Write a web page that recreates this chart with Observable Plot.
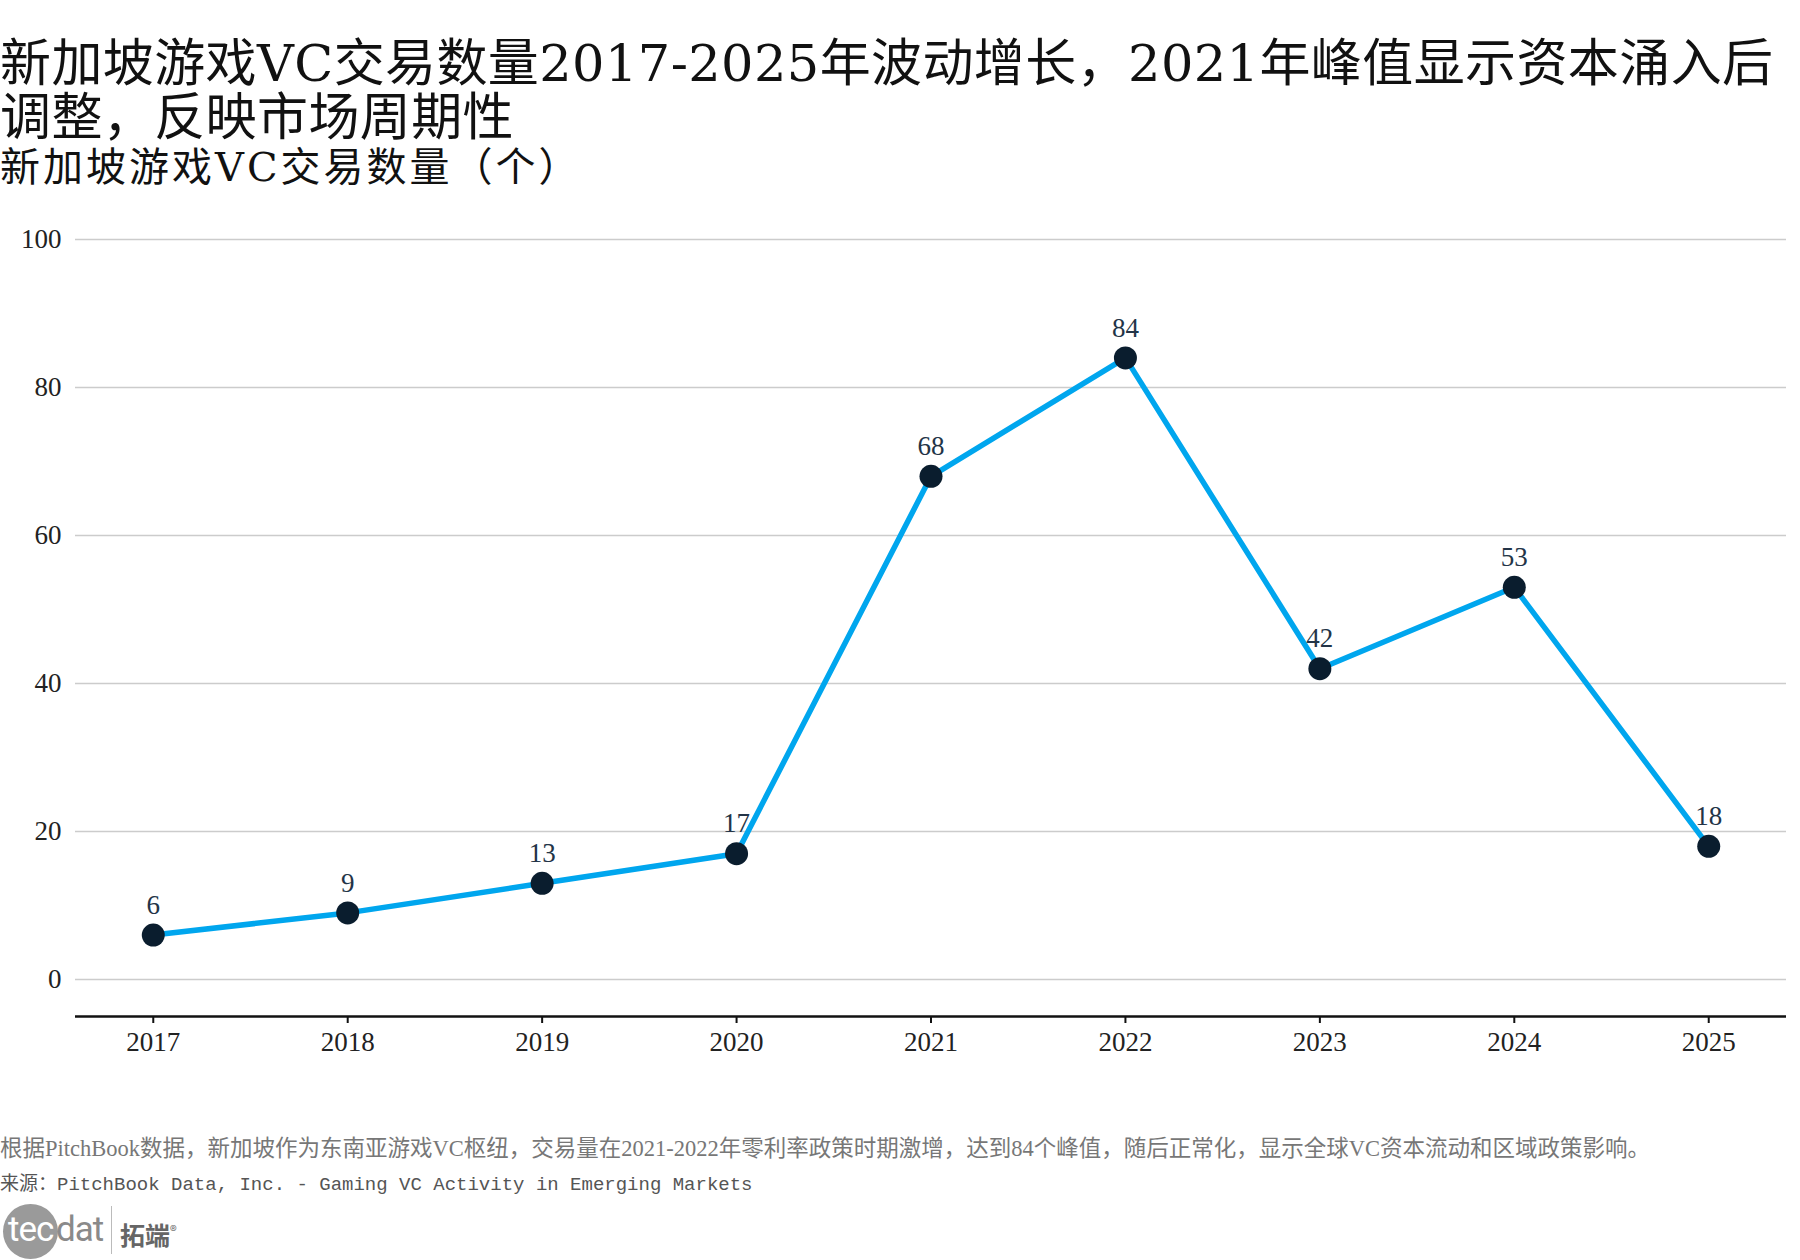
<!DOCTYPE html>
<html>
<head>
<meta charset="utf-8">
<script src="https://cdn.jsdelivr.net/npm/d3@7"></script>
<script src="https://cdn.jsdelivr.net/npm/@observablehq/plot@0.6"></script>
<style>
  html, body { margin: 0; padding: 0; background: #fff; }
  body { width: 1800px; height: 1260px; position: relative; overflow: hidden; }
  .title { position: absolute; left: 0; top: 37px; font-family: "DejaVu Serif", "Noto Sans CJK SC", serif; font-size: 51px; line-height: 54px; letter-spacing: 0.4px; color: #111; white-space: nowrap; }
  .subtitle { position: absolute; left: 0; top: 146px; font-family: "DejaVu Serif", "Noto Sans CJK SC", serif; font-size: 40px; line-height: 42px; letter-spacing: 3px; color: #111; white-space: nowrap; }
  #chart { position: absolute; left: 0; top: 200px; }
  .note { position: absolute; left: 0; top: 1136px; font-family: "Liberation Serif", "Noto Sans CJK SC", serif; font-size: 22.5px; line-height: 26px; color: #777; white-space: nowrap; }
  .source { position: absolute; left: 0; top: 1172px; font-family: "Liberation Mono", "Noto Sans CJK SC", monospace; font-size: 19px; line-height: 26px; color: #555; white-space: nowrap; }
  .logo { position: absolute; left: 3px; top: 1204px; height: 56px; width: 200px; }
  .logo .circle { position: absolute; left: 0; top: 0; width: 55px; height: 55px; border-radius: 50%; background: #9a9a9a; }
  .logo .tec { position: absolute; left: 5px; top: 6px; font-family: "Roboto", "DejaVu Sans", sans-serif; font-size: 35px; line-height: 40px; color: #fff; letter-spacing: -1px; }
  .logo .dat { position: absolute; left: 53px; top: 6px; font-family: "Roboto", "DejaVu Sans", sans-serif; font-size: 35px; line-height: 40px; color: #8a8a8a; letter-spacing: -1px; }
  .logo .bar { position: absolute; left: 108px; top: 2px; width: 1px; height: 48px; background: #bbb; }
  .logo .cn { position: absolute; left: 117px; top: 10px; font-family: "Noto Sans CJK SC", sans-serif; font-weight: 700; font-size: 25px; line-height: 32px; color: #666; }
  .logo .cn sup { font-size: 14px; font-weight: 400; }
</style>
</head>
<body>
<div class="title">新加坡游戏VC交易数量2017-2025年波动增长，2021年峰值显示资本涌入后<br>调整，反映市场周期性</div>
<div class="subtitle">新加坡游戏VC交易数量（个）</div>
<div id="chart"></div>
<div class="note">根据PitchBook数据，新加坡作为东南亚游戏VC枢纽，交易量在2021-2022年零利率政策时期激增，达到84个峰值，随后正常化，显示全球VC资本流动和区域政策影响。</div>
<div class="source">来源：PitchBook Data, Inc. - Gaming VC Activity in Emerging Markets</div>
<div class="logo">
  <div class="circle"></div>
  <div class="tec">tec</div>
  <div class="dat">dat</div>
  <div class="bar"></div>
  <div class="cn">拓端<sup>®</sup></div>
</div>
<script>
const years = [2017, 2018, 2019, 2020, 2021, 2022, 2023, 2024, 2025];
const deals = [6, 9, 13, 17, 68, 84, 42, 53, 18];
const yTicks = [0, 20, 40, 60, 80, 100];

const data = years.map((y, i) => ({year: y, deals: deals[i]}));

const chart = Plot.plot({
  width: 1800,
  height: 880,
  marginLeft: 75,
  marginRight: 14,
  marginTop: 39,
  marginBottom: 64,
  style: {fontFamily: "'Liberation Serif', 'Noto Sans CJK SC', serif", fontSize: "26px", color: "#222", background: "#fff"},
  x: {type: "point", domain: years, padding: 0.4, round: false},
  y: {domain: [-5, 100]},
  marks: [
    Plot.gridY(yTicks, {stroke: "#cccccc", strokeOpacity: 1, strokeWidth: 1.5}),
    Plot.axisY(yTicks, {tickSize: 0, tickPadding: 14, fontSize: 27, label: null}),
    Plot.ruleY([-5], {stroke: "#111", strokeWidth: 2.5}),
    Plot.axisX({tickSize: 7, tickPadding: 8, fontSize: 27, label: null, tickFormat: d => `${d}`, stroke: "#111", strokeWidth: 2}),
    Plot.line(data, {x: "year", y: "deals", stroke: "#00a6ee", strokeWidth: 5.5}),
    Plot.dot(data, {x: "year", y: "deals", r: 11.5, fill: "#0a1d2e", stroke: "none"}),
    Plot.text(data, {x: "year", y: "deals", text: d => `${d.deals}`, dy: -30, fontSize: 27, fill: "#233447"})
  ]
});
document.getElementById("chart").appendChild(chart);
</script>
</body>
</html>
